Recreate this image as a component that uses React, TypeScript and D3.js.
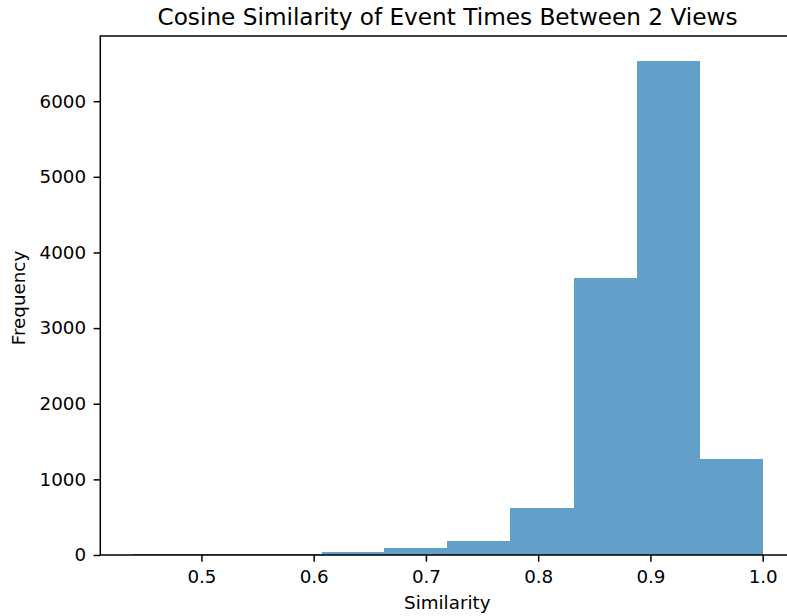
import React from "react"
import * as d3 from "d3"

// histogram bin edges (10 bins) and counts
const binEdges = [0.438, 0.494, 0.55, 0.607, 0.663, 0.719, 0.775, 0.832, 0.888, 0.944, 1.0]
const binCounts = [13, 15, 18, 36, 95, 185, 628, 3660, 6535, 1275]
const xTickValues = [0.5, 0.6, 0.7, 0.8, 0.9, 1.0]
const yTickValues = [0, 1000, 2000, 3000, 4000, 5000, 6000]

const title = "Cosine Similarity of Event Times Between 2 Views"
const xLabel = "Similarity"
const yLabel = "Frequency"

export default function App() {
  const ref = React.useRef<SVGSVGElement>(null)

  React.useEffect(() => {
    const width = 787
    const height = 616
    const margin = { top: 36, right: -7.2, bottom: 61, left: 100.3 }
    const font = "DejaVu Sans, sans-serif"

    const bins = binCounts.map((c, i) => ({ x0: binEdges[i], x1: binEdges[i + 1], count: c }))

    const span = binEdges[binEdges.length - 1] - binEdges[0]
    const x = d3
      .scaleLinear()
      .domain([binEdges[0] - span * 0.05, binEdges[binEdges.length - 1] + span * 0.05])
      .range([margin.left, width - margin.right])

    const y = d3
      .scaleLinear()
      .domain([0, d3.max(binCounts)! * 1.05])
      .range([height - margin.bottom, margin.top])

    const svg = d3.select(ref.current)
    svg.selectAll("*").remove()
    svg.attr("width", width).attr("height", height)

    svg
      .append("g")
      .selectAll("rect")
      .data(bins)
      .join("rect")
      .attr("x", (d) => x(d.x0))
      .attr("width", (d) => x(d.x1) - x(d.x0))
      .attr("y", (d) => y(d.count))
      .attr("height", (d) => y(0) - y(d.count))
      .attr("fill", "#1f77b4")
      .attr("fill-opacity", 0.7)
      .attr("shape-rendering", "crispEdges")

    // frame
    svg
      .append("rect")
      .attr("x", x.range()[0])
      .attr("y", margin.top)
      .attr("width", x.range()[1] - x.range()[0])
      .attr("height", y(0) - margin.top)
      .attr("fill", "none")
      .attr("stroke", "#000")
      .attr("stroke-width", 1.5)

    const xAxis = svg
      .append("g")
      .attr("transform", `translate(0,${y(0)})`)
      .call(
        d3.axisBottom(x).tickValues(xTickValues).tickFormat(d3.format(".1f")).tickSize(6.7).tickPadding(8)
      )
    const yAxis = svg
      .append("g")
      .attr("transform", `translate(${x.range()[0]},0)`)
      .call(d3.axisLeft(y).tickValues(yTickValues).tickFormat(d3.format("d")).tickSize(6.7).tickPadding(7.5))

    ;[xAxis, yAxis].forEach((g) => {
      g.select(".domain").remove()
      g.selectAll(".tick line").attr("stroke", "#000").attr("stroke-width", 1.5)
      g.selectAll(".tick text").attr("fill", "#000").attr("font-size", 18.3).attr("font-family", font)
    })

    svg
      .append("text")
      .attr("x", 447.5)
      .attr("y", 25)
      .attr("text-anchor", "middle")
      .attr("font-family", font)
      .attr("font-size", 23.2)
      .text(title)

    svg
      .append("text")
      .attr("x", (margin.left + width - margin.right) / 2)
      .attr("y", 609)
      .attr("text-anchor", "middle")
      .attr("font-family", font)
      .attr("font-size", 18.3)
      .text(xLabel)

    svg
      .append("text")
      .attr("transform", `translate(25,298) rotate(-90)`)
      .attr("text-anchor", "middle")
      .attr("font-family", font)
      .attr("font-size", 18.3)
      .text(yLabel)
  }, [])

  return (
    <svg ref={ref} style={{ position: "absolute", left: 0, top: 0, display: "block", background: "#fff" }} />
  )
}
